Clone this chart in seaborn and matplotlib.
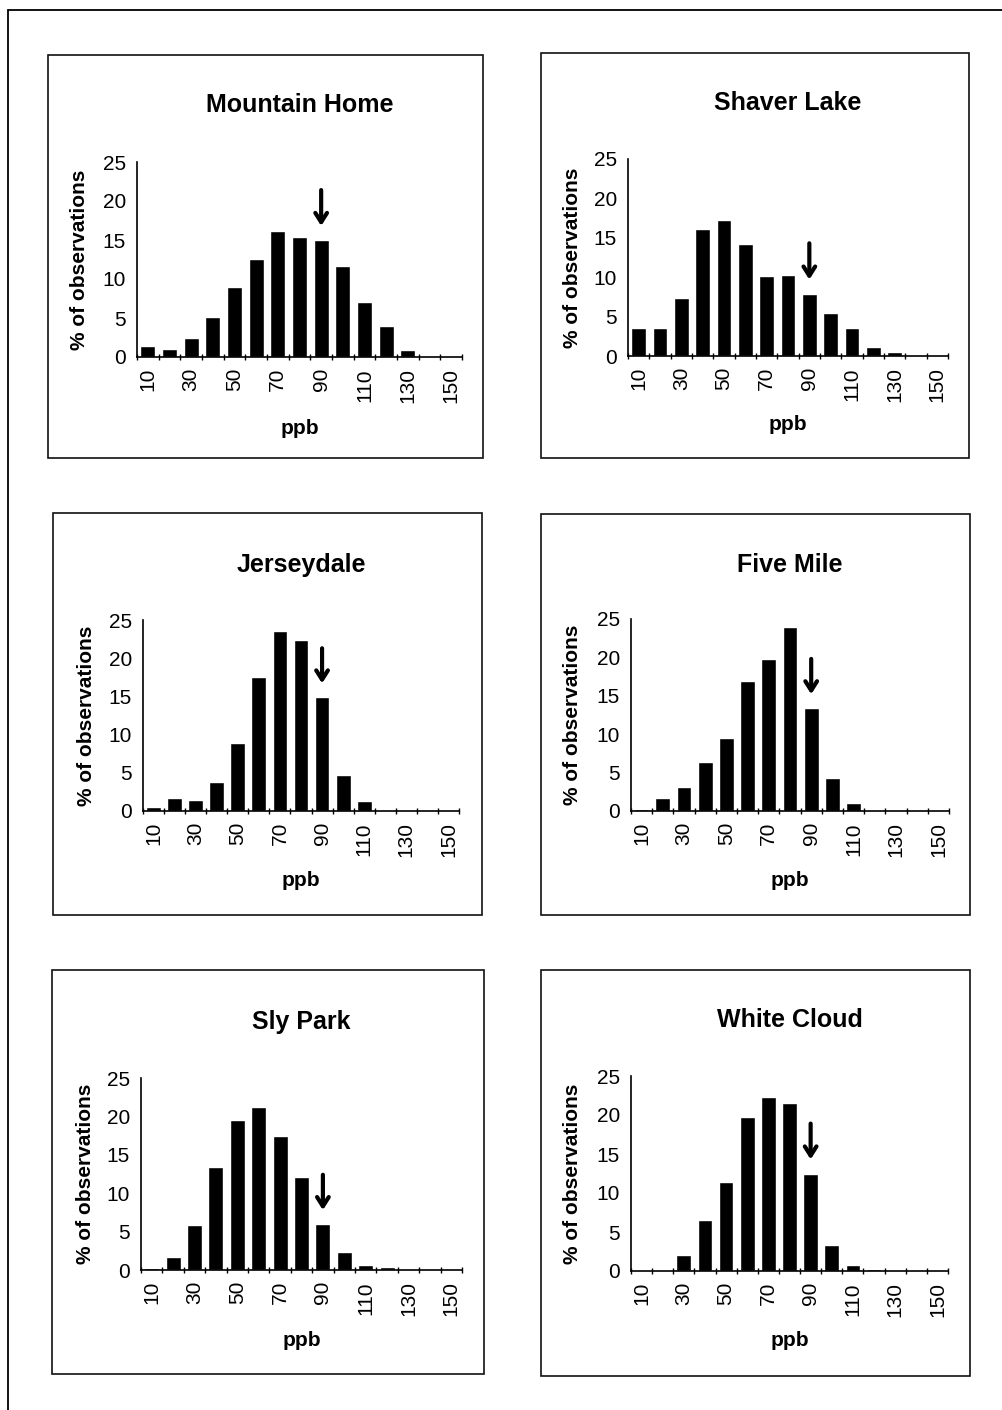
import numpy as np
import pandas as pd
import matplotlib
matplotlib.use("Agg")
import matplotlib.pyplot as plt
import seaborn as sns
from matplotlib.patches import Rectangle

# Ozone concentration classes (ppb)
ppb_bins = [10, 20, 30, 40, 50, 60, 70, 80, 90, 100, 110, 120, 130, 140, 150]
tick_labels = [str(b) if i % 2 == 0 else "" for i, b in enumerate(ppb_bins)]

# Percent of hourly observations in each class, per site
mountain_home = [1.4, 1.0, 2.4, 5.1, 9.0, 12.6, 16.2, 15.4, 15.0, 11.7, 7.1, 4.0, 0.85, 0.1, 0.1]
shaver_lake = [3.6, 3.5, 7.4, 16.1, 17.3, 14.2, 10.2, 10.3, 7.9, 5.4, 3.5, 1.1, 0.45, 0.05, 0.05]
jerseydale = [0.5, 1.7, 1.5, 3.8, 8.9, 17.5, 23.6, 22.4, 14.9, 4.7, 1.3, 0.0, 0.0, 0.0, 0.0]
five_mile = [0.2, 1.7, 3.1, 6.4, 9.5, 16.9, 19.8, 23.9, 13.4, 4.3, 1.0, 0.05, 0.05, 0.05, 0.05]
sly_park = [0.2, 1.7, 5.9, 13.4, 19.5, 21.2, 17.5, 12.1, 6.0, 2.4, 0.6, 0.45, 0.15, 0.05, 0.05]
white_cloud = [0.0, 0.1, 2.05, 6.5, 11.4, 19.8, 22.3, 21.6, 12.5, 3.3, 0.8, 0.2, 0.1, 0.05, 0.05]

sites = ["Mountain Home", "Shaver Lake", "Jerseydale", "Five Mile", "Sly Park", "White Cloud"]
site_values = [mountain_home, shaver_lake, jerseydale, five_mile, sly_park, white_cloud]
marked_class = 90  # class flagged with an arrow on every panel

sns.set_theme(style="white")
plt.rcParams["font.family"] = ["Liberation Sans", "DejaVu Sans"]
for key in ("text.color", "axes.labelcolor", "xtick.color", "ytick.color",
            "axes.edgecolor"):
    plt.rcParams[key] = "black"

W, H = 1003, 1410
fig = plt.figure(figsize=(W / 100, H / 100), dpi=100)
fig.patch.set_facecolor("white")


def fx(x):
    return x / W


def fy(y):
    return 1 - y / H


# page border (runs off the right and bottom edges)
fig.patches.append(Rectangle((fx(8), fy(1430)), fx(1030) - fx(8), fy(10) - fy(1430),
                             transform=fig.transFigure, fill=False, lw=1.3,
                             edgecolor="black", zorder=0))

# panel layout in pixels: frame box (l, t, r, b), plot area (l, t, r, b)
frames = [(48, 55, 483, 458), (541, 53, 969, 458),
          (53, 513, 482, 915), (541, 514, 970, 915),
          (52, 970, 484, 1374), (541, 970, 970, 1376)]
areas = [(137, 162, 462, 357), (628, 159, 948, 356),
         (143, 620, 459, 811), (631, 619, 949, 811),
         (141, 1078, 462, 1270), (631, 1076, 948, 1271)]
title_y = [105, 103, 565, 565, 1022, 1020]
xlabel_y = [428, 424, 880, 880, 1340, 1340]
ylabel_x = [80, 573, 87, 573, 86, 573]

for k, (site, vals) in enumerate(zip(sites, site_values)):
    fl, ft, fr, fb = frames[k]
    fig.patches.append(Rectangle((fx(fl), fy(fb)), fx(fr) - fx(fl), fy(ft) - fy(fb),
                                 transform=fig.transFigure, fill=False, lw=1.2,
                                 edgecolor="#111111", zorder=0))
    al, at, ar, ab = areas[k]
    ax = fig.add_axes([fx(al), fy(ab), fx(ar) - fx(al), fy(at) - fy(ab)])
    ax.set_facecolor("none")

    df = pd.DataFrame({"ppb": [str(b) for b in ppb_bins], "pct": vals})
    sns.barplot(data=df, x="ppb", y="pct", color="black", saturation=1,
                width=0.7, ax=ax, order=[str(b) for b in ppb_bins])

    ax.set_xlim(-0.5, len(ppb_bins) - 0.5)
    ax.set_ylim(0, 25)
    ax.set_yticks(range(0, 26, 5))
    ax.set_yticklabels([str(v) for v in range(0, 26, 5)], fontsize=15)
    ax.set_xticks(range(len(ppb_bins)))
    ax.set_xticklabels(tick_labels, rotation=90, fontsize=15)
    ax.set_xticks(np.arange(-0.5, len(ppb_bins), 1), minor=True)
    ax.tick_params(axis="x", which="major", length=0, pad=8)
    ax.tick_params(axis="x", which="minor", length=5, width=1.0,
                   direction="inout", color="black", bottom=True)
    ax.tick_params(axis="y", which="major", length=0, pad=8)
    ax.set_xlabel("")
    ax.set_ylabel("")
    for side in ("top", "right"):
        ax.spines[side].set_visible(False)
    for side in ("left", "bottom"):
        ax.spines[side].set_visible(True)
        ax.spines[side].set_color("black")
        ax.spines[side].set_linewidth(1.2)

    # arrow over the marked class
    i = ppb_bins.index(marked_class)
    tip = vals[i] + 1.8
    ax.annotate("", xy=(i, tip), xytext=(i, tip + 4.6),
                arrowprops=dict(arrowstyle="->,head_length=0.55,head_width=0.35",
                                lw=3.0, color="black", shrinkA=0, shrinkB=0))

    cx = (al + ar) / 2
    fig.text(fx(cx), fy(title_y[k]), site, ha="center", va="center",
             fontsize=18, fontweight="bold")
    fig.text(fx(cx), fy(xlabel_y[k]), "ppb", ha="center", va="center",
             fontsize=15, fontweight="bold")
    fig.text(fx(ylabel_x[k]), fy((at + ab) / 2), "% of observations", ha="center",
             va="center", rotation=90, fontsize=15, fontweight="bold")

fig.savefig("out.png", dpi=100, facecolor="white")
